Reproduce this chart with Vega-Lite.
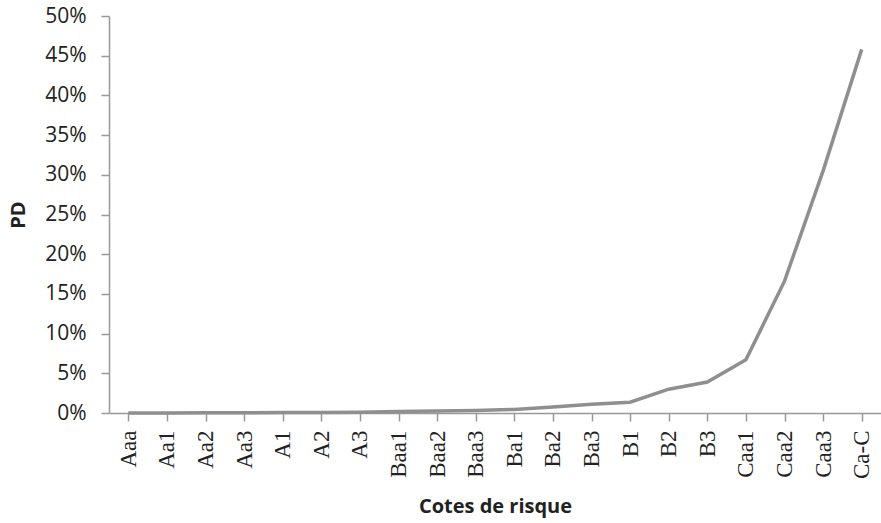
{
  "$schema": "https://vega.github.io/schema/vega-lite/v6.json",
  "autosize": "none",
  "width": 772,
  "height": 397,
  "padding": {"left": 109, "top": 16, "right": 0, "bottom": 110},
  "background": "white",
  "config": {"view": {"stroke": null}, "font": "Open Sans"},
  "data": {"values": [
    {"cote": "Aaa", "pd": 0.0},
    {"cote": "Aa1", "pd": 0.0001},
    {"cote": "Aa2", "pd": 0.0002},
    {"cote": "Aa3", "pd": 0.0004},
    {"cote": "A1", "pd": 0.0005},
    {"cote": "A2", "pd": 0.0006},
    {"cote": "A3", "pd": 0.0008},
    {"cote": "Baa1", "pd": 0.002},
    {"cote": "Baa2", "pd": 0.0025},
    {"cote": "Baa3", "pd": 0.003},
    {"cote": "Ba1", "pd": 0.0045},
    {"cote": "Ba2", "pd": 0.0075},
    {"cote": "Ba3", "pd": 0.011},
    {"cote": "B1", "pd": 0.0135},
    {"cote": "B2", "pd": 0.03},
    {"cote": "B3", "pd": 0.039},
    {"cote": "Caa1", "pd": 0.067},
    {"cote": "Caa2", "pd": 0.166},
    {"cote": "Caa3", "pd": 0.305},
    {"cote": "Ca-C", "pd": 0.458}
  ]},
  "mark": {"type": "line", "color": "#8f8f8f", "strokeWidth": 3.5, "clip": false},
  "encoding": {
    "x": {
      "field": "cote", "type": "ordinal", "sort": null,
      "scale": {"paddingInner": 0, "paddingOuter": 0},
      "axis": {
        "title": "Cotes de risque",
        "titleFont": "Open Sans", "titleFontSize": 20, "titleFontWeight": "bold", "titleColor": "#222",
        "titlePadding": 18,
        "labelAngle": -90, "labelAlign": "right", "labelBaseline": "middle",
        "labelFont": "Liberation Serif", "labelFontSize": 23, "labelColor": "#222", "labelPadding": 9,
        "bandPosition": 0, "tickColor": "#999", "tickSize": 8, "tickWidth": 1.5,
        "domainColor": "#999", "domainWidth": 1.5, "grid": false
      }
    },
    "y": {
      "field": "pd", "type": "quantitative",
      "scale": {"domain": [0, 0.5], "nice": false},
      "axis": {
        "title": "PD",
        "titleFont": "Open Sans", "titleFontSize": 20, "titleFontWeight": "bold", "titleColor": "#222",
        "titlePadding": 16,
        "format": ".0%", "values": [0, 0.05, 0.1, 0.15, 0.2, 0.25, 0.3, 0.35, 0.4, 0.45, 0.5],
        "labelFont": "Open Sans", "labelFontSize": 21, "labelColor": "#222", "labelPadding": 15,
        "tickColor": "#999", "tickSize": 8, "tickWidth": 1.5,
        "domainColor": "#999", "domainWidth": 1.5, "grid": false
      }
    }
  }
}
